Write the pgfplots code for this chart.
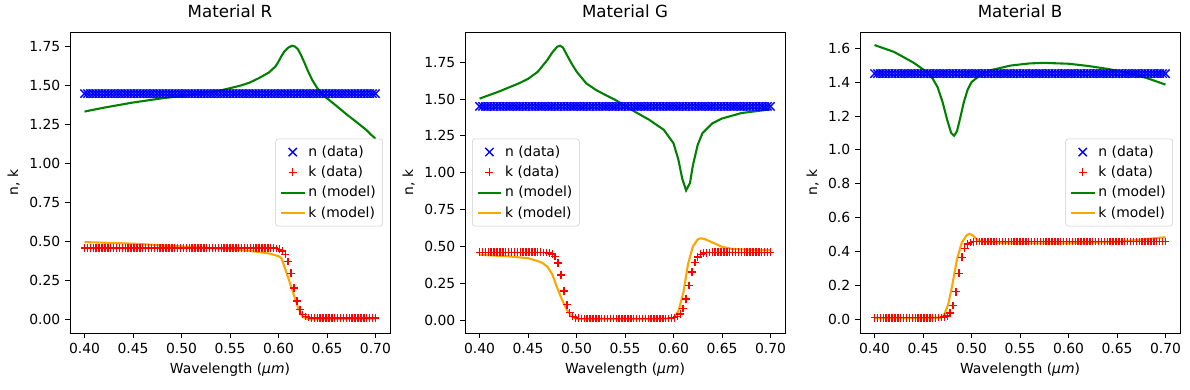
\documentclass[border=0pt]{standalone}
\usepackage{fontspec}
\setmainfont{DejaVu Sans}
\usepackage{pgfplots}
\usepackage{pgfplotstable}
\pgfplotsset{compat=1.18}
\definecolor{mplgreen}{RGB}{0,128,0}
\definecolor{mplorange}{RGB}{255,165,0}
\pgfplotstableread{
x n kR kG kB
0.400 1.45 0.460 0.460 0.010
0.403 1.45 0.460 0.460 0.010
0.406 1.45 0.460 0.460 0.010
0.409 1.45 0.460 0.460 0.010
0.412 1.45 0.460 0.460 0.010
0.415 1.45 0.460 0.460 0.010
0.418 1.45 0.460 0.460 0.010
0.421 1.45 0.460 0.460 0.010
0.424 1.45 0.460 0.460 0.010
0.427 1.45 0.460 0.460 0.010
0.430 1.45 0.460 0.460 0.010
0.433 1.45 0.460 0.460 0.010
0.436 1.45 0.460 0.460 0.010
0.439 1.45 0.460 0.460 0.010
0.442 1.45 0.460 0.460 0.010
0.445 1.45 0.460 0.460 0.010
0.448 1.45 0.460 0.460 0.010
0.451 1.45 0.460 0.460 0.010
0.454 1.45 0.460 0.460 0.010
0.457 1.45 0.460 0.460 0.010
0.460 1.45 0.460 0.460 0.010
0.463 1.45 0.460 0.460 0.010
0.466 1.45 0.460 0.459 0.011
0.469 1.45 0.460 0.458 0.012
0.472 1.45 0.460 0.456 0.014
0.475 1.45 0.460 0.449 0.021
0.478 1.45 0.460 0.431 0.039
0.481 1.45 0.460 0.388 0.082
0.484 1.45 0.460 0.307 0.163
0.487 1.45 0.460 0.198 0.272
0.490 1.45 0.460 0.104 0.366
0.493 1.45 0.460 0.050 0.420
0.496 1.45 0.460 0.026 0.444
0.499 1.45 0.460 0.016 0.454
0.502 1.45 0.460 0.012 0.458
0.505 1.45 0.460 0.011 0.459
0.508 1.45 0.460 0.010 0.460
0.511 1.45 0.460 0.010 0.460
0.514 1.45 0.460 0.010 0.460
0.517 1.45 0.460 0.010 0.460
0.520 1.45 0.460 0.010 0.460
0.523 1.45 0.460 0.010 0.460
0.526 1.45 0.460 0.010 0.460
0.529 1.45 0.460 0.010 0.460
0.532 1.45 0.460 0.010 0.460
0.535 1.45 0.460 0.010 0.460
0.538 1.45 0.460 0.010 0.460
0.541 1.45 0.460 0.010 0.460
0.544 1.45 0.460 0.010 0.460
0.547 1.45 0.460 0.010 0.460
0.550 1.45 0.460 0.010 0.460
0.553 1.45 0.460 0.010 0.460
0.556 1.45 0.460 0.010 0.460
0.559 1.45 0.460 0.010 0.460
0.562 1.45 0.460 0.010 0.460
0.565 1.45 0.460 0.010 0.460
0.568 1.45 0.460 0.010 0.460
0.571 1.45 0.460 0.010 0.460
0.574 1.45 0.460 0.010 0.460
0.577 1.45 0.460 0.010 0.460
0.580 1.45 0.460 0.010 0.460
0.583 1.45 0.460 0.010 0.460
0.586 1.45 0.460 0.010 0.460
0.589 1.45 0.460 0.010 0.460
0.592 1.45 0.460 0.010 0.460
0.595 1.45 0.459 0.011 0.460
0.598 1.45 0.457 0.013 0.460
0.601 1.45 0.452 0.016 0.460
0.604 1.45 0.441 0.024 0.460
0.607 1.45 0.419 0.042 0.460
0.610 1.45 0.373 0.079 0.460
0.613 1.45 0.298 0.144 0.460
0.616 1.45 0.203 0.235 0.460
0.619 1.45 0.119 0.326 0.460
0.622 1.45 0.064 0.391 0.460
0.625 1.45 0.034 0.428 0.460
0.628 1.45 0.021 0.446 0.460
0.631 1.45 0.015 0.454 0.460
0.634 1.45 0.012 0.457 0.460
0.637 1.45 0.011 0.459 0.460
0.640 1.45 0.010 0.460 0.460
0.643 1.45 0.010 0.460 0.460
0.646 1.45 0.010 0.460 0.460
0.649 1.45 0.010 0.460 0.460
0.652 1.45 0.010 0.460 0.460
0.655 1.45 0.010 0.460 0.460
0.658 1.45 0.010 0.460 0.460
0.661 1.45 0.010 0.460 0.460
0.664 1.45 0.010 0.460 0.460
0.667 1.45 0.010 0.460 0.460
0.670 1.45 0.010 0.460 0.460
0.673 1.45 0.010 0.460 0.460
0.676 1.45 0.010 0.460 0.460
0.679 1.45 0.010 0.460 0.460
0.682 1.45 0.010 0.460 0.460
0.685 1.45 0.010 0.460 0.460
0.688 1.45 0.010 0.460 0.460
0.691 1.45 0.010 0.460 0.460
0.694 1.45 0.010 0.460 0.460
0.697 1.45 0.010 0.460 0.460
0.700 1.45 0.010 0.460 0.460
}\datatab
\pgfplotsset{
  panel/.style={
    scale only axis, width=230.4pt, height=216.7pt,
    anchor=south west,
    xmin=0.385, xmax=0.715,
    xtick={0.40,0.45,0.50,0.55,0.60,0.65,0.70},
    xticklabel style={/pgf/number format/.cd, fixed, fixed zerofill, precision=2},
    tick align=outside, major tick length=3.5pt,
    xtick pos=bottom, ytick pos=left,
    tick style={black, line width=0.6pt},
    axis line style={line width=0.6pt},
    /pgf/number format/assume math mode=true,
    tick label style={font=\fontsize{10}{12}\selectfont},
    label style={font=\fontsize{10}{12}\selectfont},
    title style={font=\fontsize{12}{14}\selectfont, yshift=1pt},
    xlabel={Wavelength (\textit{μm})},
    ylabel={n, k},
    legend cell align=left,
    legend style={font=\fontsize{10}{12}\selectfont, draw=black!20, rounded corners=2pt,
      fill=white, fill opacity=0.8, text opacity=1, row sep=1.5pt, inner sep=3pt},
  },
  ndata/.style={only marks, mark=x, mark size=4.2pt, color=blue, mark options={line width=1pt}},
  kdata/.style={only marks, mark=+, mark size=2.8pt, color=red, mark options={line width=1pt}},
  nmodel/.style={no marks, color=mplgreen, line width=1.5pt},
  kmodel/.style={no marks, color=mplorange, line width=1.5pt},
}
\begin{document}
\begin{tikzpicture}
\useasboundingbox (0,0) rectangle (856.8pt,280.8pt);
% Material R
\begin{axis}[panel, at={(50.4pt,41.04pt)}, title={Material R},
  ymin=-0.085, ymax=1.845,
  ytick={0,0.25,0.5,0.75,1,1.25,1.5,1.75},
  yticklabel style={/pgf/number format/.cd, fixed, fixed zerofill, precision=2},
  legend style={at={(0.978,0.5)}, anchor=east}]
\addplot[ndata] table[x=x, y=n] {\datatab};
\addlegendentry{n (data)}
\addplot[kdata] table[x=x, y=kR] {\datatab};
\addlegendentry{k (data)}
\addplot[nmodel] coordinates {(0.40,1.335)(0.42,1.36)(0.45,1.393)(0.48,1.42)(0.50,1.435)(0.52,1.452)(0.54,1.47)(0.55,1.485)(0.56,1.50)(0.57,1.52)(0.58,1.55)(0.59,1.585)(0.597,1.625)(0.60,1.655)(0.603,1.69)(0.606,1.72)(0.61,1.745)(0.614,1.757)(0.617,1.752)(0.62,1.735)(0.623,1.70)(0.627,1.645)(0.63,1.60)(0.635,1.535)(0.64,1.485)(0.645,1.45)(0.65,1.42)(0.66,1.37)(0.67,1.318)(0.68,1.27)(0.69,1.22)(0.70,1.16)};
\addlegendentry{n (model)}
\addplot[kmodel] coordinates {(0.40,0.498)(0.45,0.488)(0.50,0.47)(0.55,0.452)(0.575,0.438)(0.59,0.425)(0.60,0.408)(0.603,0.395)(0.61,0.27)(0.615,0.175)(0.62,0.08)(0.625,0.018)(0.63,0.004)(0.64,0.002)(0.66,0.004)(0.70,0.008)};
\addlegendentry{k (model)}
\end{axis}
% Material G
\begin{axis}[panel, at={(334.8pt,41.04pt)}, title={Material G},
  ymin=-0.088, ymax=1.955,
  ytick={0,0.25,0.5,0.75,1,1.25,1.5,1.75},
  yticklabel style={/pgf/number format/.cd, fixed, fixed zerofill, precision=2},
  legend style={at={(0.022,0.5)}, anchor=west}]
\addplot[ndata] table[x=x, y=n] {\datatab};
\addlegendentry{n (data)}
\addplot[kdata] table[x=x, y=kG] {\datatab};
\addlegendentry{k (data)}
\addplot[nmodel] coordinates {(0.40,1.503)(0.42,1.551)(0.44,1.605)(0.45,1.637)(0.46,1.685)(0.47,1.766)(0.475,1.816)(0.48,1.855)(0.483,1.862)(0.486,1.85)(0.49,1.80)(0.495,1.74)(0.50,1.687)(0.51,1.607)(0.52,1.562)(0.53,1.527)(0.54,1.494)(0.55,1.454)(0.56,1.415)(0.575,1.359)(0.59,1.291)(0.60,1.20)(0.605,1.09)(0.609,0.96)(0.613,0.88)(0.617,0.93)(0.62,1.05)(0.625,1.19)(0.63,1.27)(0.64,1.335)(0.65,1.368)(0.67,1.405)(0.70,1.43)};
\addlegendentry{n (model)}
\addplot[kmodel] coordinates {(0.40,0.443)(0.43,0.432)(0.45,0.42)(0.46,0.40)(0.465,0.387)(0.47,0.362)(0.475,0.31)(0.48,0.22)(0.485,0.138)(0.49,0.07)(0.495,0.025)(0.50,0.008)(0.52,0.006)(0.58,0.007)(0.60,0.014)(0.605,0.06)(0.61,0.18)(0.615,0.38)(0.62,0.50)(0.625,0.548)(0.628,0.555)(0.632,0.55)(0.64,0.527)(0.65,0.497)(0.66,0.483)(0.68,0.476)(0.70,0.475)};
\addlegendentry{k (model)}
\end{axis}
% Material B
\begin{axis}[panel, at={(619.2pt,41.04pt)}, title={Material B},
  ymin=-0.08, ymax=1.695,
  ytick={0,0.2,0.4,0.6,0.8,1.0,1.2,1.4,1.6},
  yticklabel style={/pgf/number format/.cd, fixed, fixed zerofill, precision=1},
  legend style={at={(0.978,0.5)}, anchor=east}]
\addplot[ndata] table[x=x, y=n] {\datatab};
\addlegendentry{n (data)}
\addplot[kdata] table[x=x, y=kB] {\datatab};
\addlegendentry{k (data)}
\addplot[nmodel] coordinates {(0.40,1.618)(0.42,1.578)(0.44,1.515)(0.45,1.475)(0.46,1.42)(0.465,1.37)(0.47,1.285)(0.475,1.175)(0.479,1.10)(0.482,1.083)(0.485,1.11)(0.488,1.18)(0.492,1.28)(0.496,1.355)(0.50,1.40)(0.51,1.445)(0.52,1.47)(0.54,1.497)(0.56,1.51)(0.575,1.513)(0.60,1.508)(0.62,1.495)(0.64,1.478)(0.66,1.455)(0.68,1.425)(0.70,1.385)};
\addlegendentry{n (model)}
\addplot[kmodel] coordinates {(0.40,0.008)(0.44,0.008)(0.468,0.01)(0.472,0.03)(0.476,0.09)(0.48,0.198)(0.485,0.355)(0.49,0.453)(0.495,0.497)(0.498,0.505)(0.501,0.497)(0.505,0.475)(0.51,0.46)(0.53,0.45)(0.55,0.448)(0.60,0.449)(0.65,0.457)(0.70,0.485)};
\addlegendentry{k (model)}
\end{axis}
\end{tikzpicture}
\end{document}
